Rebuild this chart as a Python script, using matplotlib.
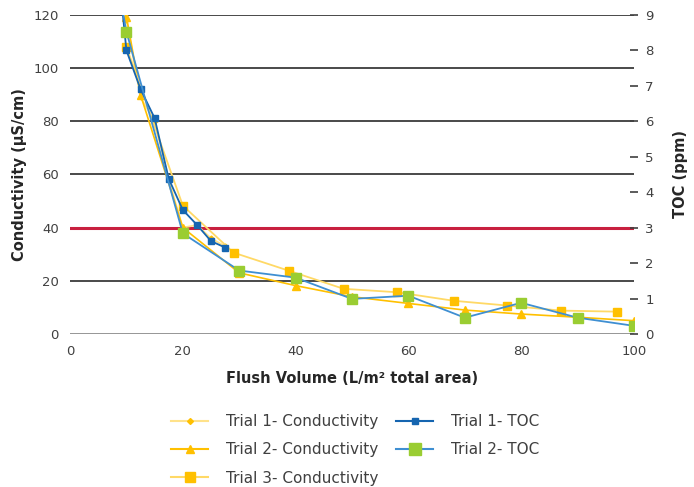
import matplotlib
matplotlib.use("Agg")
import matplotlib.pyplot as plt
from matplotlib.lines import Line2D

plt.rcParams['font.family'] = ['DejaVu Sans']

# Conductivity series (µS/cm) vs flush volume (L/m²)
t1_cond_x = [9, 10, 12.5, 15, 17.5, 20, 22.5, 25, 27.5]
t1_cond_y = [125, 118, 89, 80, 58, 40, 41, 36, 33]

t2_cond_x = [10, 12.5, 20, 30, 40, 50, 60, 70, 80, 90, 100]
t2_cond_y = [119.4, 90, 40, 23, 18.2, 14, 11.5, 9.0, 7.5, 6.3, 5.0]

t3_cond_x = [10, 20, 29, 38.8, 48.5, 58, 68, 77.5, 87, 97]
t3_cond_y = [108, 48.3, 30.6, 23.8, 17.0, 15.7, 12.5, 10.7, 8.8, 8.4]

# TOC series (ppm)
t1_toc_x = [9, 10, 12.5, 15, 17.5, 20, 22.5, 25, 27.5]
t1_toc_y = [9.6, 8.0, 6.91, 6.09, 4.38, 3.5, 3.08, 2.62, 2.44]

t2_toc_x = [9, 10, 20, 30, 40, 50, 60, 70, 80, 90, 100]
t2_toc_y = [9.4, 8.53, 2.84, 1.79, 1.59, 0.99, 1.08, 0.46, 0.88, 0.46, 0.23]

limit_cond = 40

x_ticks = [0, 20, 40, 60, 80, 100]
cond_ticks = [0, 20, 40, 60, 80, 100, 120]
toc_ticks = list(range(10))

GOLD = '#FFC000'
LIGHT_GOLD = '#FFD966'
PALE_GOLD = '#FFE28A'
DARK_BLUE = '#1565B0'
MID_BLUE = '#3F8FD2'
GREEN = '#9ACD32'
TEXT = '#404040'

fig = plt.figure(figsize=(6.94, 4.87), dpi=100)
ax = fig.add_axes([0.1009, 0.3142, 0.8126, 0.655])
ax2 = ax.twinx()

ax.set_xlim(0, 100)
ax.set_ylim(0, 120)
ax2.set_ylim(0, 9)

# horizontal gridlines on the conductivity scale
for v in cond_ticks[1:]:
    ax.axhline(v, color='#3a3a3a', lw=1.3, zorder=1)
ax.axhline(0, color='#8c8c8c', lw=2.0, zorder=1)
ax.axhline(limit_cond, color='#C8203F', lw=2.2, zorder=2)

ax.plot(t1_cond_x, t1_cond_y, color=PALE_GOLD, lw=1.3, marker='D', ms=2.5,
        mfc=GOLD, mec=GOLD, zorder=3)
ax.plot(t2_cond_x, t2_cond_y, color=GOLD, lw=1.2, marker='^', ms=5.5,
        mfc=GOLD, mec=GOLD, zorder=3)
ax.plot(t3_cond_x, t3_cond_y, color=LIGHT_GOLD, lw=1.3, marker='s', ms=6,
        mfc=GOLD, mec=GOLD, zorder=3)

ax2.plot(t1_toc_x, t1_toc_y, color=DARK_BLUE, lw=1.3, marker='s', ms=4.2,
         mfc=DARK_BLUE, mec=DARK_BLUE, zorder=4)
ax2.plot(t2_toc_x, t2_toc_y, color=MID_BLUE, lw=1.3, marker='s', ms=7.5,
         mfc=GREEN, mec=GREEN, zorder=4)

for a in (ax, ax2):
    for s in a.spines.values():
        s.set_visible(False)

ax.set_xticks(x_ticks)
ax.set_yticks(cond_ticks)
ax.tick_params(axis='both', length=0, labelsize=9.5, labelcolor=TEXT, pad=8)
ax2.set_yticks(toc_ticks)
ax2.tick_params(axis='y', direction='inout', length=6, width=1.2, color='#404040',
                labelsize=9.5, labelcolor=TEXT, pad=5)

ax.set_xlabel('Flush Volume (L/m² total area)', fontsize=10.5, fontweight='bold',
              color='#262626', labelpad=9)
ax.set_ylabel('Conductivity (µS/cm)', fontsize=10.5, fontweight='bold',
              color='#262626', labelpad=5)
ax2.set_ylabel('TOC (ppm)', fontsize=10.5, fontweight='bold', color='#262626',
               labelpad=14)

handles = [
    Line2D([], [], color=PALE_GOLD, lw=1.5, marker='D', ms=3, mfc=GOLD, mec=GOLD),
    Line2D([], [], color=GOLD, lw=1.5, marker='^', ms=6, mfc=GOLD, mec=GOLD),
    Line2D([], [], color=LIGHT_GOLD, lw=1.5, marker='s', ms=7, mfc=GOLD, mec=GOLD),
    Line2D([], [], color=DARK_BLUE, lw=1.5, marker='s', ms=5, mfc=DARK_BLUE, mec=DARK_BLUE),
    Line2D([], [], color=MID_BLUE, lw=1.5, marker='s', ms=9, mfc=GREEN, mec=GREEN),
]
labels = ['Trial 1- Conductivity', 'Trial 2- Conductivity', 'Trial 3- Conductivity',
          'Trial 1- TOC', 'Trial 2- TOC']
leg = fig.legend(handles, labels, loc='upper left', bbox_to_anchor=(0.247, 0.150),
                 ncol=2, frameon=False, fontsize=11, handlelength=2.4,
                 columnspacing=1.15, handletextpad=1.2, labelspacing=0.88,
                 borderaxespad=0, borderpad=0)
for t in leg.get_texts():
    t.set_color(TEXT)

fig.savefig('out.png', dpi=100)
